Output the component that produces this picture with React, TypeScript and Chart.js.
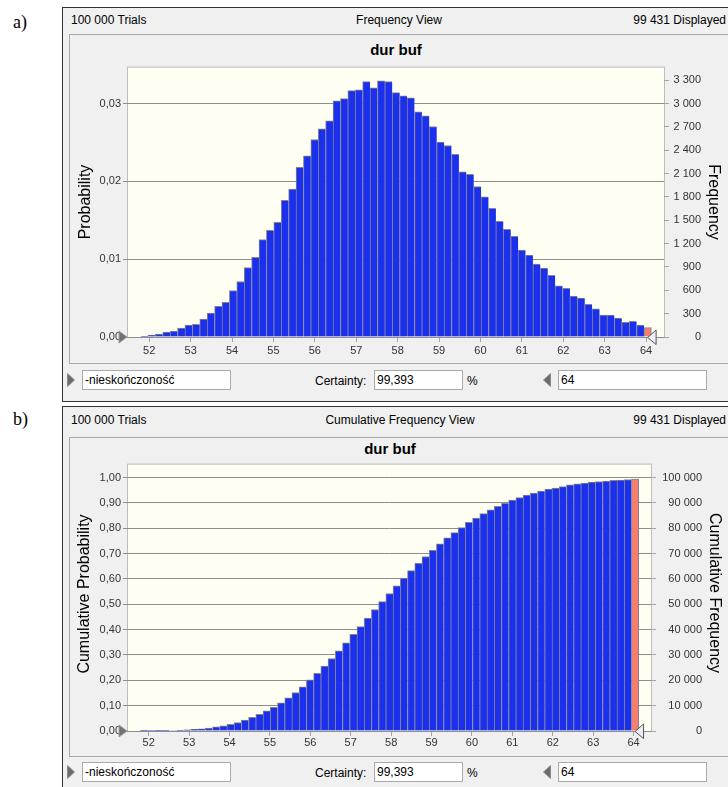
import React, { useEffect, useRef } from 'react';
import { Chart, registerables } from 'chart.js';

Chart.register(...registerables);

// ---------------- data ----------------
const TRIALS = 100000;
const DISPLAYED_TEXT = '99 431 Displayed';
const TRIALS_TEXT = '100 000 Trials';
const CERTAINTY_TEXT = '99,393';
const LOWER_TEXT = '-nieskończoność';
const UPPER_TEXT = '64';
const CUTOFF = 64;
const BIN_START = 51.79;
const BIN_WIDTH = 0.1788;
const X_MIN = 51.487;
const X_MAX = 64.432;
const X_TICKS = [52, 53, 54, 55, 56, 57, 58, 59, 60, 61, 62, 63, 64];

// frequency per bin (chart a)
const FREQ = [
  8, 25, 38, 64, 77, 115, 154, 162, 231, 307,
  393, 444, 598, 713, 893, 1025, 1252, 1371, 1474, 1756,
  1901, 2179, 2329, 2538, 2675, 2778, 3034, 3064, 3167, 3175,
  3282, 3201, 3291, 3282, 3141, 3098, 3072, 2893, 2842, 2705,
  2504, 2461, 2346, 2124, 2090, 1932, 1800, 1654, 1488, 1385,
  1295, 1116, 1052, 936, 885, 791, 658, 624, 526, 500,
  419, 363, 282, 282, 244, 188, 201, 154, 120,
];

// cumulative frequency per bin (chart b)
const CUM_FREQ = [
  10, 35, 70, 135, 210, 330, 480, 650, 900, 1200,
  1600, 2050, 2620, 3300, 4300, 5350, 6600, 7950, 9320, 11150,
  13100, 15200, 17450, 20150, 22800, 25650, 28600, 31600, 34780, 38100,
  41210, 44550, 47900, 51050, 54250, 57330, 60350, 63300, 66200, 68850,
  71250, 73900, 76200, 78300, 80300, 82350, 84000, 85750, 87300, 88700,
  89800, 91100, 92100, 93100, 93850, 94700, 95450, 95900, 96450, 97100,
  97550, 97850, 98200, 98450, 98650, 98900, 99050, 99250, 99400,
];

const PROB_TICKS = [0, 0.01, 0.02, 0.03];
const FREQ_TICKS = [0, 300, 600, 900, 1200, 1500, 1800, 2100, 2400, 2700, 3000, 3300];
const CUM_PROB_TICKS = [0, 0.1, 0.2, 0.3, 0.4, 0.5, 0.6, 0.7, 0.8, 0.9, 1.0];
const CUM_FREQ_TICKS = [0, 10000, 20000, 30000, 40000, 50000, 60000, 70000, 80000, 90000, 100000];
const FREQ_AXIS_MAX = 3462;
const CUM_AXIS_MAX = 105120;

// ---------------- styles ----------------
const FONT = '"Liberation Sans", Arial, sans-serif';
const PLOT_BG = '#fefef2';
const BAR_BLUE = '#1b30ec';
const BAR_SALMON = '#f67e6e';
const BAR_EDGE = '#84848e';
const GRID = '#8e8e8e';
const TICK = '#a4a4a4';

const fmtProb = (v: number) => v.toFixed(2).replace('.', ',');
const fmtFreq = (v: number) => String(Math.round(v)).replace(/\B(?=(\d{3})+(?!\d))/g, ' ');

type Spec = {
  values: number[];
  leftTicks: number[];
  rightTicks: number[];
  rightMax: number;
  width: number;
  height: number;
  padTop: number;
  padRight: number;
  leftW: number;
  rightW: number;
  xH: number;
  xPad: number;
  leftTitle: string;
  rightTitle: string;
  leftTitlePos: [number, number];
  rightTitlePos: [number, number];
};

function ChartCanvas({ spec, left, top }: { spec: Spec; left: number; top: number }) {
  const ref = useRef<HTMLCanvasElement>(null);
  useEffect(() => {
    const canvas = ref.current;
    if (!canvas) return;
    const n = spec.values.length;
    const centers = spec.values.map((_, i) => BIN_START + BIN_WIDTH * (i + 0.5));
    const colors = centers.map((c) => (c > CUTOFF ? BAR_SALMON : BAR_BLUE));
    const borders = spec.values.map((_, i) =>
      i === n - 1 ? { left: 1, top: 1, right: 1, bottom: 0 } : { left: 1, top: 1, right: 0, bottom: 0 }
    );
    const tickFont = { family: FONT, size: 11 };

    const decor = {
      id: 'decor',
      beforeDraw(chart: any) {
        const { ctx, chartArea: a } = chart;
        ctx.save();
        ctx.fillStyle = PLOT_BG;
        ctx.fillRect(a.left, a.top, a.right - a.left, a.bottom - a.top);
        ctx.strokeStyle = '#bdbdbd';
        ctx.lineWidth = 1;
        ctx.strokeRect(a.left - 0.5, a.top - 0.5, a.right - a.left + 1, a.bottom - a.top + 1);
        ctx.restore();
      },
      afterDraw(chart: any) {
        const { ctx, chartArea: a } = chart;
        const xs = chart.scales.x;
        ctx.save();
        // axis titles
        ctx.fillStyle = '#000';
        ctx.font = `16px ${FONT}`;
        ctx.textAlign = 'center';
        ctx.textBaseline = 'middle';
        ctx.save();
        ctx.translate(spec.leftTitlePos[0], spec.leftTitlePos[1]);
        ctx.rotate(-Math.PI / 2);
        ctx.fillText(spec.leftTitle, 0, 0);
        ctx.restore();
        ctx.save();
        ctx.translate(spec.rightTitlePos[0], spec.rightTitlePos[1]);
        ctx.rotate(Math.PI / 2);
        ctx.fillText(spec.rightTitle, 0, 0);
        ctx.restore();
        // certainty grabbers
        const b = a.bottom;
        ctx.beginPath();
        ctx.moveTo(a.left - 9, b - 6);
        ctx.lineTo(a.left - 9, b + 6);
        ctx.lineTo(a.left - 1, b);
        ctx.closePath();
        ctx.fillStyle = '#727272';
        ctx.fill();
        ctx.strokeStyle = '#9c9c9c';
        ctx.stroke();
        const tip = xs.getPixelForValue(CUTOFF) + 1.5;
        ctx.beginPath();
        ctx.moveTo(tip, b + 0.5);
        ctx.lineTo(tip + 8.5, b - 7);
        ctx.lineTo(tip + 8.5, b + 7.5);
        ctx.closePath();
        ctx.fillStyle = '#eceef6';
        ctx.fill();
        ctx.strokeStyle = '#555';
        ctx.stroke();
        ctx.restore();
      },
    };

    const chart = new Chart(canvas, {
      type: 'bar',
      data: {
        datasets: [
          {
            data: spec.values.map((v, i) => ({ x: centers[i], y: v })),
            backgroundColor: colors,
            borderColor: BAR_EDGE,
            borderWidth: borders as any,
            borderSkipped: false as any,
            barPercentage: 1,
            categoryPercentage: 1,
            xAxisID: 'x',
            yAxisID: 'yR',
          } as any,
        ],
      },
      options: {
        responsive: false,
        animation: false,
        devicePixelRatio: 1,
        layout: { padding: { left: 0, top: spec.padTop, right: spec.padRight, bottom: 0 } },
        plugins: { legend: { display: false }, tooltip: { enabled: false }, title: { display: false } },
        scales: {
          x: {
            type: 'linear',
            position: 'bottom',
            min: X_MIN,
            max: X_MAX,
            offset: false,
            afterBuildTicks: (s: any) => {
              s.ticks = X_TICKS.map((v) => ({ value: v }));
            },
            afterFit: (s: any) => {
              s.height = spec.xH;
            },
            grid: { display: true, offset: false, drawOnChartArea: false, tickLength: 5, color: TICK },
            border: { display: false },
            ticks: {
              font: tickFont,
              color: '#333',
              padding: spec.xPad,
              autoSkip: false,
              maxRotation: 0,
              callback: (v: any) => String(v),
            },
          },
          y: {
            type: 'linear',
            position: 'left',
            min: 0,
            max: spec.rightMax / TRIALS,
            afterBuildTicks: (s: any) => {
              s.ticks = spec.leftTicks.map((v) => ({ value: v }));
            },
            afterFit: (s: any) => {
              s.width = spec.leftW;
            },
            grid: { color: GRID, tickLength: 5, tickColor: GRID },
            border: { display: false },
            ticks: { font: tickFont, color: '#333', padding: 2, callback: (v: any) => fmtProb(Number(v)) },
          },
          yR: {
            type: 'linear',
            position: 'right',
            min: 0,
            max: spec.rightMax,
            afterBuildTicks: (s: any) => {
              s.ticks = spec.rightTicks.map((v) => ({ value: v }));
            },
            afterFit: (s: any) => {
              s.width = spec.rightW;
            },
            grid: { drawOnChartArea: false, tickLength: 5, color: TICK },
            border: { display: false },
            ticks: { font: tickFont, color: '#333', crossAlign: 'far', callback: (v: any) => fmtFreq(Number(v)) },
          },
        } as any,
      },
      plugins: [decor],
    } as any);
    return () => chart.destroy();
  }, []);
  return (
    <canvas
      ref={ref}
      width={spec.width}
      height={spec.height}
      style={{ position: 'absolute', left, top, width: spec.width, height: spec.height }}
    />
  );
}

const specA: Spec = {
  values: FREQ,
  leftTicks: PROB_TICKS,
  rightTicks: FREQ_TICKS,
  rightMax: FREQ_AXIS_MAX,
  width: 658,
  height: 304,
  padTop: 9,
  padRight: 27,
  leftW: 58,
  rightW: 37,
  xH: 25,
  xPad: 2,
  leftTitle: 'Probability',
  rightTitle: 'Frequency',
  leftTitlePos: [15.5, 144],
  rightTitlePos: [643, 144],
};

const specB: Spec = {
  values: CUM_FREQ,
  leftTicks: CUM_PROB_TICKS,
  rightTicks: CUM_FREQ_TICKS,
  rightMax: CUM_AXIS_MAX,
  width: 658,
  height: 300,
  padTop: 9,
  padRight: 26,
  leftW: 58,
  rightW: 51,
  xH: 24,
  xPad: 0,
  leftTitle: 'Cumulative Probability',
  rightTitle: 'Cumulative Frequency',
  leftTitlePos: [15, 139],
  rightTitlePos: [644, 138],
};

function Txt({
  x,
  y,
  text,
  align = 'left',
  size = 12,
  bold = false,
  family = FONT,
}: {
  x: number;
  y: number;
  text: string;
  align?: 'left' | 'center' | 'right';
  size?: number;
  bold?: boolean;
  family?: string;
}) {
  const style: any = {
    position: 'absolute',
    top: y - 10,
    height: 20,
    lineHeight: '20px',
    fontSize: size,
    fontFamily: family,
    fontWeight: bold ? 'bold' : 'normal',
    color: '#000',
    whiteSpace: 'nowrap',
  };
  if (align === 'left') style.left = x;
  else if (align === 'right') style.right = 728 - x;
  else {
    style.left = x;
    style.transform = 'translateX(-50%)';
  }
  return <div style={style}>{text}</div>;
}

function Box({ x, y, w, text }: { x: number; y: number; w: number; text: string }) {
  return (
    <div
      style={{
        position: 'absolute',
        left: x,
        top: y,
        width: w,
        height: 20,
        boxSizing: 'border-box',
        border: '1px solid #a9a9a9',
        background: '#fff',
        fontFamily: FONT,
        fontSize: 12,
        lineHeight: '18px',
        paddingLeft: 2,
        whiteSpace: 'nowrap',
      }}
    >
      {text}
    </div>
  );
}

function Tri({ x, y, dir }: { x: number; y: number; dir: 'r' | 'l' }) {
  const pts = dir === 'r' ? '0.5,0.5 0.5,13.5 7.5,7' : '7.5,0.5 7.5,13.5 0.5,7';
  return (
    <svg style={{ position: 'absolute', left: x, top: y }} width={8} height={14}>
      <polygon points={pts} fill="#6c6c6c" stroke="#8a8a8a" strokeWidth={1} />
    </svg>
  );
}

function Controls({ y }: { y: number }) {
  return (
    <>
      <Tri x={67} y={y + 3} dir="r" />
      <Box x={82} y={y} w={149} text={LOWER_TEXT} />
      <Txt x={315} y={y + 11} text="Certainty:" />
      <Box x={374} y={y} w={89} text={CERTAINTY_TEXT} />
      <Txt x={467} y={y + 11} text="%" />
      <Tri x={543} y={y + 3} dir="l" />
      <Box x={558} y={y} w={149} text={UPPER_TEXT} />
    </>
  );
}

export default function App() {
  return (
    <div
      style={{
        position: 'absolute',
        left: 0,
        top: 0,
        width: 728,
        height: 787,
        overflow: 'hidden',
        background: '#fff',
      }}
    >
      <Txt x={13} y={22} text="a)" size={18} family='"Liberation Serif", "Times New Roman", serif' />
      <Txt x={13} y={419} text="b)" size={18} family='"Liberation Serif", "Times New Roman", serif' />

      {/* panel a */}
      <div
        style={{
          position: 'absolute',
          left: 62,
          top: 7,
          width: 700,
          height: 395,
          boxSizing: 'border-box',
          borderTop: '1px solid #333',
          borderLeft: '1px solid #333',
          borderBottom: '1px solid #333',
          background: '#f0f0f0',
        }}
      />
      <div
        style={{
          position: 'absolute',
          left: 69,
          top: 34,
          width: 700,
          height: 330,
          boxSizing: 'border-box',
          border: '1px solid #a8a8a8',
          background: '#f0f0f0',
        }}
      />
      <Txt x={71} y={20} text={TRIALS_TEXT} />
      <Txt x={399} y={20} text="Frequency View" align="center" />
      <Txt x={726} y={20} text={DISPLAYED_TEXT} align="right" />
      <Txt x={396} y={50} text="dur buf" align="center" size={15} bold />
      <ChartCanvas spec={specA} left={70} top={58} />
      <Controls y={370} />

      {/* panel b */}
      <div
        style={{
          position: 'absolute',
          left: 62,
          top: 406,
          width: 700,
          height: 400,
          boxSizing: 'border-box',
          borderTop: '1px solid #333',
          borderLeft: '1px solid #333',
          background: '#f0f0f0',
        }}
      />
      <div
        style={{
          position: 'absolute',
          left: 69,
          top: 437,
          width: 700,
          height: 320,
          boxSizing: 'border-box',
          border: '1px solid #a8a8a8',
          background: '#f0f0f0',
        }}
      />
      <Txt x={71} y={420} text={TRIALS_TEXT} />
      <Txt x={400} y={420} text="Cumulative Frequency View" align="center" />
      <Txt x={726} y={420} text={DISPLAYED_TEXT} align="right" />
      <Txt x={390} y={449} text="dur buf" align="center" size={15} bold />
      <ChartCanvas spec={specB} left={70} top={455} />
      <Controls y={762} />
    </div>
  );
}
